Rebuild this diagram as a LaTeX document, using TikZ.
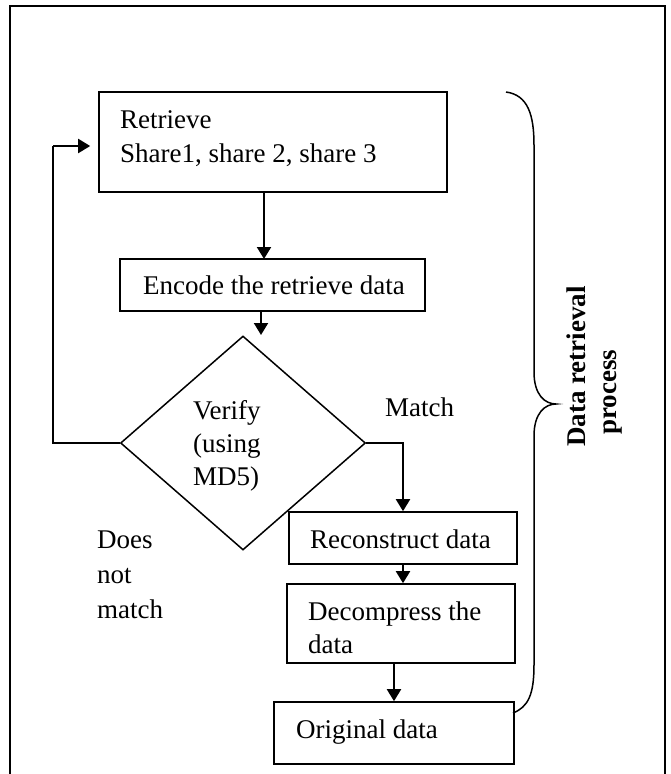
\documentclass[tikz,border=0pt]{standalone}
\usepackage{fontspec}
\setmainfont{Liberation Serif}
\usetikzlibrary{arrows.meta,shapes.geometric}
\begin{document}
\begin{tikzpicture}[x=1pt,y=-1pt,
  box/.style={draw,line width=1.6pt,rectangle,inner sep=0pt},
  txt/.style={font=\fontsize{27}{34}\selectfont,inner sep=0pt,anchor=base west},
  btxt/.style={font=\fontsize{27}{34}\selectfont\bfseries,inner sep=0pt,anchor=base west,rotate=90},
  arr/.style={line width=2pt,-{Triangle[width=14pt,length=12pt]}},
  ln/.style={line width=1.5pt}]
\useasboundingbox (0,0) rectangle (670,774);
\clip (0,0) rectangle (670,774);
\draw[line width=1.5pt] (10,800) -- (10,6) -- (665,6) -- (665,800);
% boxes
\node[box,minimum width=348pt,minimum height=100pt] (b1) at (273,142) {};
\node[box,minimum width=305pt,minimum height=52pt] (b2) at (272.5,285) {};
\node[draw,line width=1.5pt,diamond,minimum width=245pt,minimum height=214pt,inner sep=0pt] (d) at (243,443) {};
\node[box,minimum width=228pt,minimum height=52pt] (rec) at (403,538) {};
\node[box,minimum width=228pt,minimum height=79pt] (dec) at (401,623.5) {};
\node[box,minimum width=240pt,minimum height=62pt] (orig) at (394,733) {};
% texts
\node[txt] (t1a) at (120,128) {Retrieve};
\node[txt] (t1b) at (120,162) {Share1, share 2, share 3};
\node[txt] (t2) at (143,294) {Encode the retrieve data};
\node[txt] (tv1) at (193,419) {Verify};
\node[txt] (tv2) at (193,452) {(using};
\node[txt] (tv3) at (193,485) {MD5)};
\node[txt] (tm) at (385,416) {Match};
\node[txt] (tn1) at (97,548) {Does};
\node[txt] (tn2) at (97,583) {not};
\node[txt] (tn3) at (97,618) {match};
\node[txt] (tr) at (310,548) {Reconstruct data};
\node[txt] (tdc1) at (308,620) {Decompress the};
\node[txt] (tdc2) at (308,653) {data};
\node[txt] (to) at (296,738) {Original data};
\node[btxt] (tp1) at (585,447) {Data retrieval};
\node[btxt] (tp2) at (616,435) {process};
% connectors
\coordinate (a1) at (264,259);
\coordinate (a2) at (261,335);
\coordinate (fb) at (53,146);
\draw[arr] (b1.south -| a1) -- (a1);
\draw[arr] (b2.south -| a2) -- (a2);
\draw[arr] (d.east) -| (rec.north);
\draw[arr] (rec.south) -- (rec.south |- dec.north);
\draw[arr] (dec.south -| orig.north) -- (orig.north);
\draw[ln] (d.west) -- (d.west -| fb) -- (fb);
\draw[arr,shorten >=8pt] (fb) -- (b1.west |- fb);
% brace
\draw[line width=1.5pt] (506,92) .. controls (528,95) and (534,115) .. (534,145)
  -- (534,372) .. controls (534,395) and (545,404) .. (556,404)
  .. controls (545,404) and (534,413) .. (534,436)
  -- (534,665) .. controls (534,695) and (528,707) .. (513,713);
\end{tikzpicture}
\end{document}
